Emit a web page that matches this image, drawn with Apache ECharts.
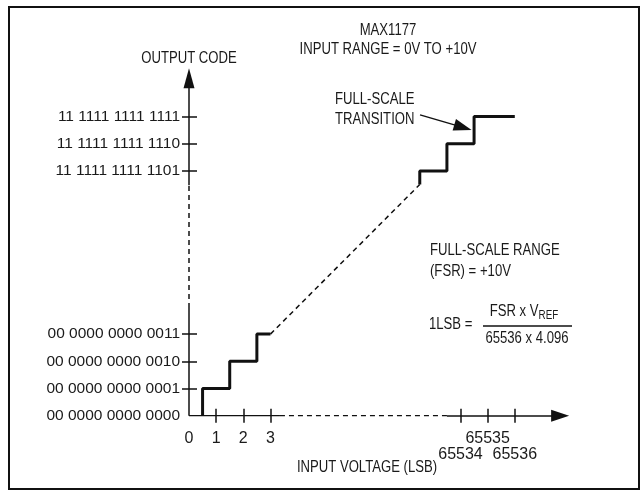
<!DOCTYPE html>
<html><head><meta charset="utf-8">
<script src="https://cdn.jsdelivr.net/npm/echarts@6/dist/echarts.min.js"></script>
<style>html,body{margin:0;padding:0;background:#fff}#c{width:642px;height:491px}</style>
</head><body><div id="c"></div>
<script>
// ---- data ----
const xTickValues = [1, 2, 3, 65534, 65535, 65536];          // input voltage, LSB
const xLabelUpper = [0, 1, 2, 3, 65535];                        // first label row
const xLabelLower = [65534, 65536];                             // second label row
const yCodeValues = [0, 1, 2, 3, 16381, 16382, 16383];          // output codes
const yCodeLabels = ['00 0000 0000 0000', '00 0000 0000 0001', '00 0000 0000 0010', '00 0000 0000 0011',
                     '11 1111 1111 1101', '11 1111 1111 1110', '11 1111 1111 1111'];
const yTickValues = [1, 2, 3, 16381, 16382, 16383];
// transfer function [input LSB, output code]
const lowSteps = [[0.5, 0], [0.5, 1], [1.5, 1], [1.5, 2], [2.5, 2], [2.5, 3], [3, 3]];
const highSteps = [[65532.5, 16380.5], [65532.5, 16381], [65533.5, 16381], [65533.5, 16382],
                   [65534.5, 16382], [65534.5, 16383], [65536, 16383]];
const idealDashed = [[3, 3], [65532.5, 16380.5]];
// axis breaks (LSB / code where the axis turns dashed)
const xBreak = [3.35, 65533.5];
const yBreak = [3.96, 16380.47];
const xAxisEnd = 65537.67;   // arrow centre
const yAxisEnd = 16384.41;
const transitionArrow = [[65532.51, 16383.06], [65534.09, 16382.6]];

// ---- broken-axis mapping ----
const X_SHIFT = 65524, Y_SHIFT = 16372;
const mx = v => (v > 1000 ? v - X_SHIFT : v);
const my = v => (v > 1000 ? v - Y_SHIFT : v);
const mp = p => [mx(p[0]), my(p[1])];

const FONT = "'Liberation Sans', Arial, Helvetica, sans-serif";
const INK = '#111';
const TXT = '#1a1a1a';
const SX = 0.82;   // condensed look for annotation text

const chart = echarts.init(document.getElementById('c'), null, {renderer: 'canvas'});

const xLabelMap = {};
xLabelUpper.concat(xLabelLower).forEach(v => { xLabelMap[mx(v)] = String(v); });
const yLabelMap = {};
yCodeValues.forEach((v, i) => { yLabelMap[my(v)] = yCodeLabels[i]; });

const baseX = {
  type: 'value', min: 0, max: 14, position: 'bottom',
  axisLine: {show: false}, splitLine: {show: false}
};
const baseY = {
  type: 'value', min: 0, max: 12.75, position: 'left',
  axisLine: {show: false}, splitLine: {show: false}
};
const xLabelStyle = {color: TXT, fontFamily: FONT, fontSize: 16, showMinLabel: true, showMaxLabel: true,
                     formatter: v => xLabelMap[v] || ''};

function seg(data, dashed, width) {
  return {
    type: 'line', data: data, symbol: 'none', silent: true, animation: false,
    lineStyle: {color: INK, width: width || 1.5, type: dashed ? [5, 4] : 'solid'}, z: 3
  };
}
function arrowLine(p0, p1, size) {
  return {
    type: 'line', data: [], silent: true, animation: false,
    markLine: {
      silent: true, animation: false, symbol: ['none', 'triangle'], symbolSize: size,
      label: {show: false}, emphasis: {disabled: true},
      lineStyle: {color: INK, width: 1.5, type: 'solid'},
      data: [[{coord: p0}, {coord: p1}]]
    }
  };
}
function txt(x, y, s, align) {
  return {type: 'text', x: x, y: y, scaleX: SX, silent: true,
    style: {text: s, font: '16px ' + FONT, fill: TXT, textAlign: align || 'left', textVerticalAlign: 'middle'}};
}

const option = {
  backgroundColor: '#fff',
  animation: false,
  grid: {left: 189, right: 72.9, top: 415.7 - 12.75 * 27.2, bottom: 491 - 415.7, containLabel: false},
  xAxis: [
    Object.assign({}, baseX, {
      axisTick: {show: true, length: 7, customValues: xTickValues.map(mx), lineStyle: {color: INK, width: 1.5}},
      axisLabel: Object.assign({customValues: xLabelUpper.map(mx), margin: 15}, xLabelStyle)
    }),
    Object.assign({}, baseX, {
      axisTick: {show: true, inside: true, length: 7, customValues: xTickValues.map(mx), lineStyle: {color: INK, width: 1.5}},
      axisLabel: Object.assign({customValues: xLabelLower.map(mx), margin: 31}, xLabelStyle)
    })
  ],
  yAxis: [
    Object.assign({}, baseY, {
      axisTick: {show: true, length: 7, customValues: yTickValues.map(my), lineStyle: {color: INK, width: 1.5}},
      axisLabel: {
        customValues: yCodeValues.map(my), margin: 9, showMinLabel: true, showMaxLabel: true,
        formatter: v => yLabelMap[v] || '',
        color: TXT, fontFamily: FONT, fontSize: 15.5
      }
    }),
    Object.assign({}, baseY, {
      axisTick: {show: true, inside: true, length: 8, customValues: yTickValues.map(my), lineStyle: {color: INK, width: 1.5}},
      axisLabel: {show: false}
    })
  ],
  graphic: [
    {type: 'rect', shape: {x: 9, y: 7, width: 630, height: 482}, style: {fill: 'none', stroke: INK, lineWidth: 2}, silent: true},
    txt(189, 59, 'OUTPUT CODE', 'center'),
    txt(367, 468, 'INPUT VOLTAGE (LSB)', 'center'),
    txt(388, 31, 'MAX1177', 'center'),
    txt(388, 50, 'INPUT RANGE = 0V TO +10V', 'center'),
    txt(335, 100, 'FULL-SCALE'),
    txt(335, 120, 'TRANSITION'),
    txt(430, 251, 'FULL-SCALE RANGE'),
    txt(430, 272, '(FSR) = +10V'),
    txt(429, 325, '1LSB ='),
    {type: 'text', x: 524, y: 313, scaleX: SX, silent: true, style: {
      text: '{a|FSR x V}{b|REF}', textAlign: 'center', textVerticalAlign: 'middle', fill: TXT,
      rich: {
        a: {fontFamily: FONT, fontSize: 16, fill: TXT, verticalAlign: 'bottom', padding: [0, 0, 2, 0]},
        b: {fontFamily: FONT, fontSize: 12, fill: TXT, verticalAlign: 'bottom'}
      }
    }},
    {type: 'line', shape: {x1: 483, y1: 326, x2: 572, y2: 326}, style: {stroke: INK, lineWidth: 1.5}, silent: true},
    txt(527, 339, '65536 x 4.096', 'center')
  ],
  series: [
    // axes drawn as broken lines
    seg([[0, 0], [mx(xBreak[0]), 0]], false),
    seg([[mx(xBreak[0]), 0], [mx(xBreak[1]), 0]], true),
    seg([[0, 0], [0, my(yBreak[0])]], false),
    seg([[0, my(yBreak[0])], [0, my(yBreak[1])]], true),
    arrowLine([mx(xBreak[1]), 0], [mx(xAxisEnd), 0], [12, 18]),
    arrowLine([0, my(yBreak[1])], [0, my(yAxisEnd)], [11, 20]),
    // transfer function
    seg(idealDashed.map(mp), true),
    seg(lowSteps.map(mp), false, 3),
    seg(highSteps.map(mp), false, 3),
    arrowLine(mp(transitionArrow[0]), mp(transitionArrow[1]), [12, 18])
  ]
};
chart.setOption(option);
</script></body></html>
